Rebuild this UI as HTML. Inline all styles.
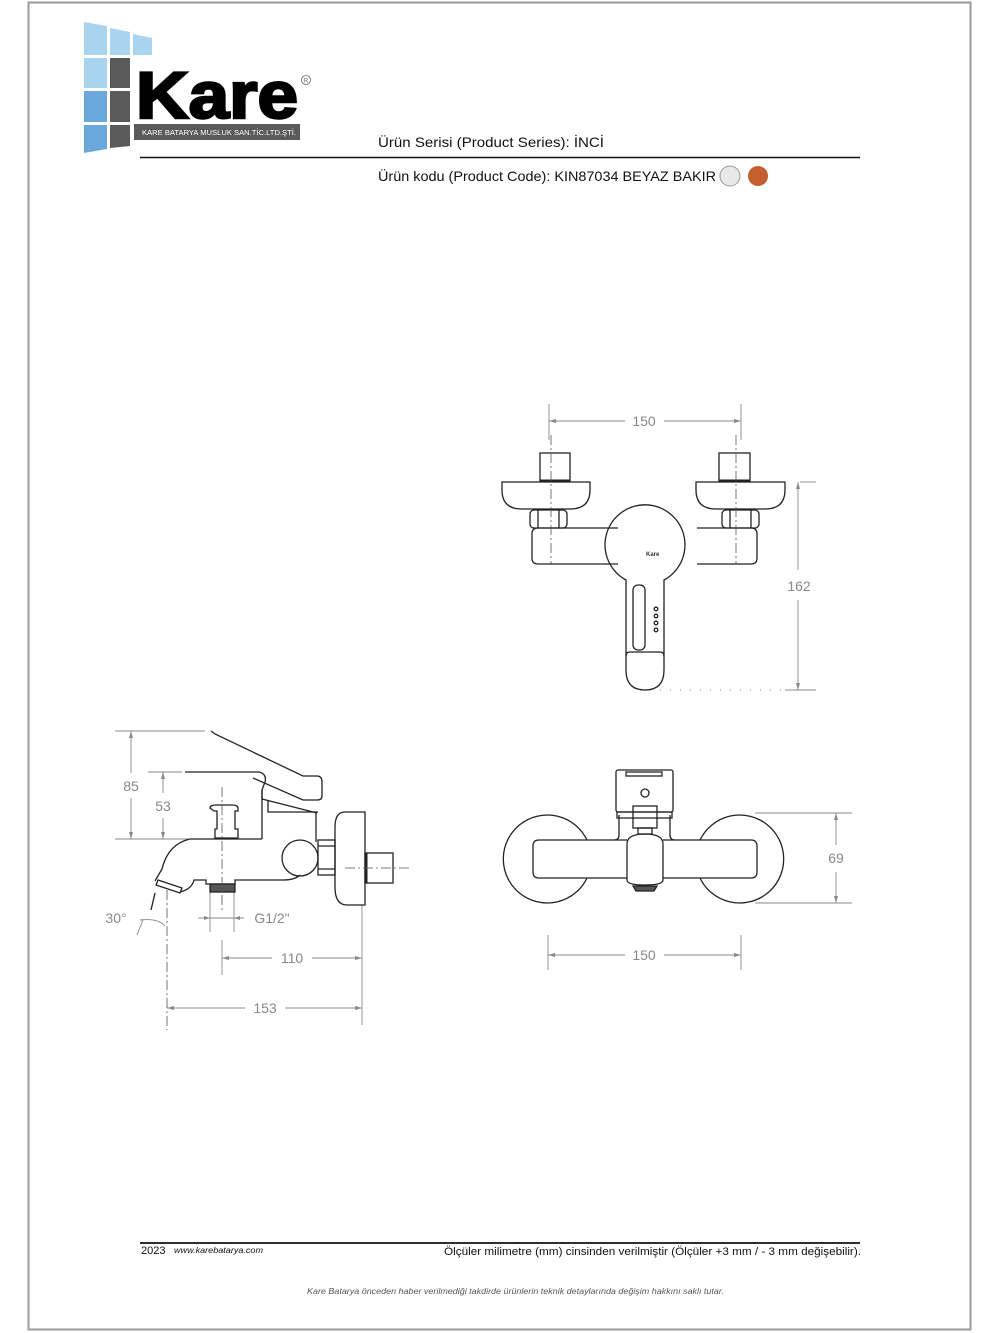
<!DOCTYPE html>
<html><head><meta charset="utf-8"><style>
html,body{margin:0;padding:0;background:#fff}
svg{display:block}
text{font-family:"Liberation Sans",sans-serif}
</style></head><body>
<svg width="1000" height="1333" viewBox="0 0 1000 1333" xmlns="http://www.w3.org/2000/svg">
<rect x="28.5" y="2.5" width="942" height="1327" fill="none" stroke="#9a9a9a" stroke-width="2"/>
<g>
<polygon points="84,22 107,26 107,55 84,55" fill="#a8d4f0"/>
<polygon points="110,28 130,32 130,55 110,55" fill="#a8d4f0"/>
<polygon points="133,34 152,38 152,55 133,55" fill="#a8d4f0"/>
<rect x="84" y="58" width="23" height="30" fill="#a8d4f0"/>
<rect x="110" y="58" width="20" height="30" fill="#5a5a5a"/>
<rect x="84" y="91" width="23" height="31" fill="#6aa8dc"/>
<rect x="110" y="91" width="20" height="31" fill="#5a5a5a"/>
<polygon points="84,125 107,125 107,149 84,153" fill="#6aa8dc"/>
<polygon points="110,125 130,125 130,146 110,148" fill="#5a5a5a"/>
<rect x="134" y="124" width="166" height="16" fill="#5a5a5a"/>
<text x="142" y="135" font-size="7" fill="#fff" textLength="154" lengthAdjust="spacingAndGlyphs">KARE BATARYA MUSLUK SAN.TİC.LTD.ŞTİ.</text>
<text x="136" y="118" font-size="66" font-weight="bold" fill="#000" stroke="#000" stroke-width="2.5" textLength="162" lengthAdjust="spacingAndGlyphs">Kare</text>
<circle cx="306" cy="80" r="4.5" fill="none" stroke="#666" stroke-width=".8"/>
<text x="306" y="82.5" font-size="6" text-anchor="middle" fill="#666">R</text>
</g>
<text x="378" y="147" font-size="14" fill="#111" textLength="226" lengthAdjust="spacingAndGlyphs">Ürün Serisi (Product Series): İNCİ</text>
<line x1="140" y1="157.5" x2="860" y2="157.5" stroke="#111" stroke-width="1.6"/>
<text x="378" y="181" font-size="14" fill="#111" textLength="338" lengthAdjust="spacingAndGlyphs">Ürün kodu (Product Code): KIN87034 BEYAZ BAKIR</text>
<circle cx="730" cy="176" r="10" fill="#e8e8e8" stroke="#999"/>
<circle cx="758" cy="176" r="10" fill="#c5602e"/>

<g fill="none" stroke="#222" stroke-width="1.3">
<g stroke="#888" stroke-width=".9">
<line x1="549" y1="404" x2="549" y2="440"/><line x1="741" y1="404" x2="741" y2="440"/>
<line x1="549" y1="421" x2="625" y2="421"/><line x1="664" y1="421" x2="741" y2="421"/>
<line x1="800" y1="482" x2="816" y2="482"/><line x1="660" y1="690" x2="816" y2="690" stroke-dasharray="1 9"/>
<line x1="785" y1="690" x2="816" y2="690"/>
<line x1="798" y1="482" x2="798" y2="570"/><line x1="798" y1="600" x2="798" y2="690"/>
</g>
<path d="M549 421l7-2v4zM741 421l-7-2v4zM798 482l-2 7h4zM798 690l-2-7h4z" fill="#888" stroke="none"/>
<rect x="540" y="453" width="30" height="28"/><rect x="719" y="453" width="31" height="28"/>
<line x1="540" y1="481" x2="570" y2="481" stroke-width="3"/><line x1="719" y1="481" x2="750" y2="481" stroke-width="3"/>
<path d="M502 482h88v8q0 19-20 19h-48q-20 0-20-19z"/>
<path d="M696 482h89v8q0 19-20 19h-49q-20 0-20-19z"/>
<rect x="530" y="510" width="37" height="18" rx="4"/><rect x="722" y="510" width="37" height="18" rx="4"/>
<line x1="538" y1="510" x2="538" y2="528"/><line x1="559" y1="510" x2="559" y2="528"/>
<line x1="730" y1="510" x2="730" y2="528"/><line x1="751" y1="510" x2="751" y2="528"/>
<path d="M618 528h-80q-6 0-6 6v24q0 6 6 6h80M697 528h54q6 0 6 6v24q0 6-6 6h-54"/>
<path d="M626 580a40 40 0 1 1 38 0v90q0 20-19 20q-19 0-19-20z"/>
<rect x="633" y="585" width="12" height="65" rx="5"/>
<path d="M626 656q0-4 4-4h30q4 0 4 4"/>
<circle cx="656" cy="609" r="1.8"/><circle cx="656" cy="616" r="1.8"/><circle cx="656" cy="623" r="1.8"/><circle cx="656" cy="630" r="1.8"/>
<text x="646" y="556" font-size="6" font-weight="bold" fill="#333" stroke="none">Kare</text>
<g stroke="#555" stroke-width=".8" stroke-dasharray="10 3 2 3">
<line x1="551" y1="435" x2="551" y2="565"/><line x1="736" y1="435" x2="736" y2="565"/>
</g>

<g stroke="#888" stroke-width=".9">
<line x1="115" y1="731" x2="205" y2="731"/><line x1="115" y1="839" x2="262" y2="839"/>
<line x1="148" y1="772" x2="182" y2="772"/>
<line x1="131" y1="731" x2="131" y2="773"/><line x1="131" y1="798" x2="131" y2="839"/>
<line x1="163" y1="772" x2="163" y2="793"/><line x1="163" y1="818" x2="163" y2="839"/>
<line x1="210" y1="892" x2="210" y2="932"/><line x1="234" y1="892" x2="234" y2="932"/>
<line x1="198" y1="918" x2="244" y2="918"/>
<line x1="222" y1="940" x2="222" y2="975"/><line x1="362" y1="905" x2="362" y2="1025"/>
<line x1="222" y1="958" x2="272" y2="958"/><line x1="312" y1="958" x2="362" y2="958"/>
<line x1="167" y1="1008" x2="245" y2="1008"/><line x1="285" y1="1008" x2="362" y2="1008"/>
<path d="M140 920q18-2 25 6"/><path d="M143 920l-6 15"/>
</g>
<path d="M131 731l-2 7h4zM131 839l-2-7h4zM163 772l-2 7h4zM163 839l-2-7h4zM210 918l-6-2v4zM234 918l6-2v4zM222 958l7-2v4zM362 958l-7-2v4zM167 1008l7-2v4zM362 1008l-7-2v4z" fill="#888" stroke="none"/>
<path d="M211 731l4 3l88 42h14q5 0 5 6v14q0 4-5 4h-14l-50-22"/>
<path d="M185 772h74q8 2 6 10l-3 8v9l55 14"/>
<path d="M262 790v49"/><path d="M268 800v12h50"/>
<path d="M316 812v30"/>
<path d="M190 839h72M190 839q-22 5-28 30l-7 12"/>
<path d="M180 892q12-3 14-12h12v4h29v-4h48q12 0 17-5"/>
<path d="M158 880l24 8l-2 5l-24-8z"/>
<rect x="210" y="884" width="25" height="8" fill="#555"/>
<path d="M210 808q0-3 6-3h16q6 0 6 3v3h-3v18h3v9h-23v-9h2v-18h-3z"/>
<circle cx="300" cy="858" r="18"/>
<rect x="318" y="840" width="17" height="35"/><line x1="318" y1="846" x2="335" y2="846"/><line x1="318" y1="869" x2="335" y2="869"/>
<path d="M365 812h-20q-10 0-10 15v60q0 18 12 18h18z"/>
<rect x="365" y="853" width="28" height="30"/><line x1="366" y1="853" x2="366" y2="883" stroke-width="3"/>
<line x1="155" y1="893" x2="151" y2="910"/>
<g stroke="#555" stroke-width=".8" stroke-dasharray="10 3 2 3">
<line x1="222" y1="787" x2="222" y2="910"/><line x1="345" y1="868" x2="410" y2="868"/>
<line x1="167" y1="890" x2="167" y2="1030"/>
</g>

<g stroke="#888" stroke-width=".9">
<line x1="755" y1="813" x2="852" y2="813"/><line x1="755" y1="903" x2="852" y2="903"/>
<line x1="836" y1="813" x2="836" y2="845"/><line x1="836" y1="872" x2="836" y2="903"/>
<line x1="548" y1="935" x2="548" y2="970"/><line x1="741" y1="935" x2="741" y2="970"/>
<line x1="548" y1="955" x2="625" y2="955"/><line x1="664" y1="955" x2="741" y2="955"/>
</g>
<path d="M836 813l-2 7h4zM836 903l-2-7h4zM548 955l7-2v4zM741 955l-7-2v4z" fill="#888" stroke="none"/>
<path d="M587 840A44 44 0 1 0 587 878"/>
<path d="M700 840A44 44 0 1 1 700 878"/>
<path d="M627 840h-88q-6 0-6 6v26q0 6 6 6h88M663 840h88q6 0 6 6v26q0 6-6 6h-88"/>
<path d="M619 815v20q0 5-5 5M670 815v20q0 5 5 5"/>
<rect x="616" y="770" width="57" height="42" rx="2"/>
<rect x="626" y="772" width="36" height="4"/>
<circle cx="645" cy="793" r="4"/>
<path d="M617 812h55v6h-55z"/>
<rect x="633" y="806" width="24" height="22"/><rect x="638" y="828" width="14" height="6"/>
<path d="M627 880v-36q0-10 18-10q18 0 18 10v36q0 5-18 5q-18 0-18-5z"/>
<path d="M633 886h24l-3 5h-18z" fill="#555"/>
</g>
<g font-size="14" fill="#888" text-anchor="middle">
<text x="644" y="426">150</text><text x="799" y="591">162</text>
<text x="131" y="791">85</text><text x="163" y="811">53</text>
<text x="116" y="923">30°</text><text x="272" y="923">G1/2"</text>
<text x="292" y="963">110</text><text x="265" y="1013">153</text>
<text x="836" y="863">69</text><text x="644" y="960">150</text>
</g>
<line x1="140" y1="1243" x2="860" y2="1243" stroke="#111" stroke-width="1.8"/>
<text x="141" y="1254" font-size="11" fill="#111">2023</text>
<text x="174" y="1253" font-size="8" font-style="italic" fill="#111" textLength="89" lengthAdjust="spacingAndGlyphs">www.karebatarya.com</text>
<text x="444" y="1255" font-size="11" fill="#111" textLength="417" lengthAdjust="spacingAndGlyphs">Ölçüler milimetre (mm) cinsinden verilmiştir (Ölçüler  +3 mm / - 3 mm değişebilir).</text>
<text x="307" y="1294" font-size="8" font-style="italic" fill="#555" textLength="417" lengthAdjust="spacingAndGlyphs">Kare Batarya önceden haber verilmediği takdirde ürünlerin teknik detaylarında değişim hakkını saklı tutar.</text>
</svg>
</body></html>
